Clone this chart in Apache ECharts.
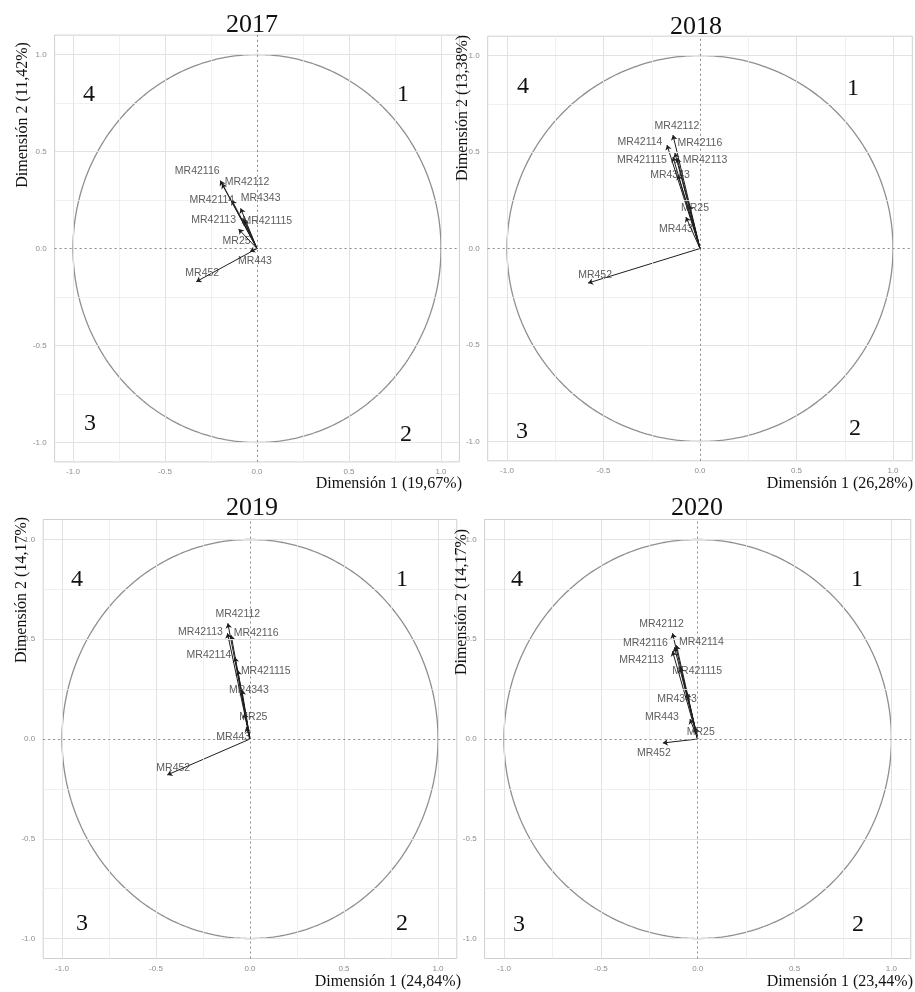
<!DOCTYPE html>
<html>
<head>
<meta charset="utf-8">
<script src="https://cdn.jsdelivr.net/npm/echarts@6/dist/echarts.min.js"></script>
<style>
html,body{margin:0;padding:0;background:#fff;}
#chart{width:915px;height:992px;}
</style>
</head>
<body>
<div id="chart"></div>
<script>
// ---------- data ----------
const years = ['2017', '2018', '2019', '2020'];
const variables = ['MR42112', 'MR42113', 'MR42114', 'MR42116', 'MR421115', 'MR4343', 'MR25', 'MR443', 'MR452'];
const dim1_2017 = [-0.19, -0.078, -0.137, -0.20, -0.069, -0.089, -0.10, -0.038, -0.33];
const dim2_2017 = [0.335, 0.156, 0.25, 0.35, 0.147, 0.207, 0.10, -0.016, -0.171];
const dim1_2018 = [-0.14, -0.119, -0.171, -0.13, -0.14, -0.114, -0.057, -0.073, -0.58];
const dim2_2018 = [0.588, 0.469, 0.536, 0.495, 0.474, 0.381, 0.225, 0.163, -0.179];
const dim1_2019 = [-0.118, -0.12, -0.08, -0.10, -0.065, -0.043, -0.03, -0.02, -0.44];
const dim2_2019 = [0.58, 0.53, 0.41, 0.52, 0.345, 0.245, 0.13, 0.06, -0.18];
const dim1_2020 = [-0.13, -0.13, -0.11, -0.12, -0.09, -0.055, -0.015, -0.04, -0.18];
const dim2_2020 = [0.53, 0.44, 0.47, 0.46, 0.36, 0.23, 0.06, 0.10, -0.02];
const dim1Titles = ['Dimensión 1 (19,67%)', 'Dimensión 1 (26,28%)', 'Dimensión 1 (24,84%)', 'Dimensión 1 (23,44%)'];
const dim2Titles = ['Dimensión 2 (11,42%)', 'Dimensión 2 (13,38%)', 'Dimensión 2 (14,17%)', 'Dimensión 2 (14,17%)'];
const tickValues = [-1, -0.5, 0, 0.5, 1];
const majorGrid = [-1, -0.5, 0.5, 1];
const minorGrid = [-0.75, -0.25, 0.25, 0.75];
const quadrantNames = ['4', '1', '3', '2'];

// ---------- layout / style ----------
const dim1 = [dim1_2017, dim1_2018, dim1_2019, dim1_2020];
const dim2 = [dim2_2017, dim2_2018, dim2_2019, dim2_2020];
const panels = [
  {left: 54.6, top: 35.1, width: 404.8, height: 426.8},
  {left: 487.7, top: 36.2, width: 424.6, height: 424.6},
  {left: 43.2, top: 519.5, width: 413.6, height: 439.0},
  {left: 484.6, top: 519.5, width: 426.2, height: 439.0}
];
// label offsets (px) relative to arrow tips, per panel
const labelOffsets = [
  {MR42116:[-23,-9], MR42112:[25,-1], MR42114:[-20,0], MR4343:[20,-10], MR42113:[-29,2], MR421115:[23,1], MR25:[-2,12], MR443:[5,10], MR452:[6,-9]},
  {MR42112:[4,-9], MR42114:[-27,-3], MR42116:[25,-10], MR421115:[-31,3], MR42113:[28,2], MR4343:[-8,0], MR25:[6,3], MR443:[-10,12], MR452:[7,-8]},
  {MR42112:[10,-9], MR42113:[-27,-1], MR42116:[25,-2], MR42114:[-26,-2], MR421115:[28,1], MR4343:[7,0], MR25:[9,4], MR443:[-13,10], MR452:[6,-7]},
  {MR42112:[-11,-9], MR42116:[-29,-4], MR42114:[25,-3], MR42113:[-31,9], MR421115:[17,4], MR4343:[-10,6], MR443:[-28,-2], MR25:[6,5], MR452:[-9,10]}
];
const titlePos = [[252, 25], [696, 27], [252, 508], [697, 508]];
const dim1Pos = [[462, 484], [913, 484], [461, 982], [913, 982]];
const dim2Pos = [[23, 115], [463, 108], [22, 590], [462, 602]];
const quadPos = [
  [[89, 95], [403, 95], [90, 424], [406, 435]],
  [[523, 87], [853, 89], [522, 432], [855, 429]],
  [[77, 580], [402, 580], [82, 924], [402, 924]],
  [[517, 580], [857, 580], [519, 925], [858, 925]]
];

const SERIF = '"Liberation Serif", "Times New Roman", serif';
const SANS = '"Liberation Sans", Arial, sans-serif';

// unit circle outline (geometric guide)
const circle = [];
for (let i = 0; i <= 360; i++) {
  const a = i * Math.PI / 180;
  circle.push([Math.cos(a), Math.sin(a)]);
}

const grid = [], xAxis = [], yAxis = [], series = [], graphic = [];

panels.forEach((p, k) => {
  grid.push({left: p.left, top: p.top, width: p.width, height: p.height,
    show: true, borderColor: '#cfcfcf', borderWidth: 1, backgroundColor: '#fff'});
  const axisCommon = {
    gridIndex: k, type: 'value', min: -1.1, max: 1.1,
    axisLine: {show: false}, axisTick: {show: false}, splitLine: {show: false},
    axisLabel: {customValues: tickValues, formatter: v => v.toFixed(1),
      fontSize: 8, color: '#8c8c8c', fontFamily: SANS}
  };
  xAxis.push(Object.assign({}, axisCommon, {axisLabel: Object.assign({}, axisCommon.axisLabel, {margin: 6})}));
  yAxis.push(Object.assign({}, axisCommon, {axisLabel: Object.assign({}, axisCommon.axisLabel, {margin: 8})}));

  // grid lines
  const gl = [];
  minorGrid.forEach(v => {
    gl.push({xAxis: v, lineStyle: {color: '#ececec', width: 0.8, type: 'solid'}});
    gl.push({yAxis: v, lineStyle: {color: '#ececec', width: 0.8, type: 'solid'}});
  });
  majorGrid.forEach(v => {
    gl.push({xAxis: v, lineStyle: {color: '#e2e2e2', width: 1, type: 'solid'}});
    gl.push({yAxis: v, lineStyle: {color: '#e2e2e2', width: 1, type: 'solid'}});
  });
  series.push({
    type: 'line', xAxisIndex: k, yAxisIndex: k, data: [], silent: true, z: 1,
    markLine: {silent: true, symbol: ['none', 'none'], label: {show: false}, animation: false, data: gl}
  });
  // dashed zero lines
  series.push({
    type: 'line', xAxisIndex: k, yAxisIndex: k, data: [], silent: true, z: 2,
    markLine: {silent: true, symbol: ['none', 'none'], label: {show: false}, animation: false,
      lineStyle: {color: '#8a8a8a', width: 1, type: [2, 3]},
      data: [{xAxis: 0}, {yAxis: 0}]}
  });
  // circle
  series.push({
    type: 'line', xAxisIndex: k, yAxisIndex: k, data: circle, showSymbol: false, silent: true, z: 3,
    lineStyle: {color: '#8f8f8f', width: 1.3}, animation: false
  });
  // arrows
  series.push({
    type: 'lines', coordinateSystem: 'cartesian2d', xAxisIndex: k, yAxisIndex: k, silent: true, z: 4,
    symbol: ['none', 'arrow'], symbolSize: [0, 5], animation: false,
    lineStyle: {color: '#1e1e1e', width: 1, opacity: 1, curveness: 0},
    data: variables.map((n, i) => ({coords: [[0, 0], [dim1[k][i], dim2[k][i]]]}))
  });
  // labels
  series.push({
    type: 'scatter', xAxisIndex: k, yAxisIndex: k, symbolSize: 0.1, silent: true, z: 5, animation: false,
    data: variables.map((n, i) => ({
      value: [dim1[k][i], dim2[k][i]], name: n,
      label: {offset: labelOffsets[k][n]}
    })),
    label: {show: true, position: 'inside', formatter: '{b}', fontSize: 10.5, fontFamily: SANS,
      color: '#333', align: 'center', verticalAlign: 'middle'}
  });

  graphic.push({type: 'text', x: titlePos[k][0], y: titlePos[k][1],
    style: {text: years[k], font: '26px ' + SERIF, fill: '#111', textAlign: 'center', textVerticalAlign: 'middle'}});
  graphic.push({type: 'text', x: dim1Pos[k][0], y: dim1Pos[k][1],
    style: {text: dim1Titles[k], font: '16px ' + SERIF, fill: '#111', textAlign: 'right', textVerticalAlign: 'middle'}});
  graphic.push({type: 'text', x: dim2Pos[k][0], y: dim2Pos[k][1], rotation: Math.PI / 2,
    style: {text: dim2Titles[k], font: '16px ' + SERIF, fill: '#111', textAlign: 'center', textVerticalAlign: 'middle'}});
  quadrantNames.forEach((q, j) => {
    graphic.push({type: 'text', x: quadPos[k][j][0], y: quadPos[k][j][1],
      style: {text: q, font: '24px ' + SERIF, fill: '#111', textAlign: 'center', textVerticalAlign: 'middle'}});
  });
});

const chart = echarts.init(document.getElementById('chart'), null, {renderer: 'canvas'});
chart.setOption({animation: false, backgroundColor: '#fff', grid, xAxis, yAxis, series, graphic});
</script>
</body>
</html>
